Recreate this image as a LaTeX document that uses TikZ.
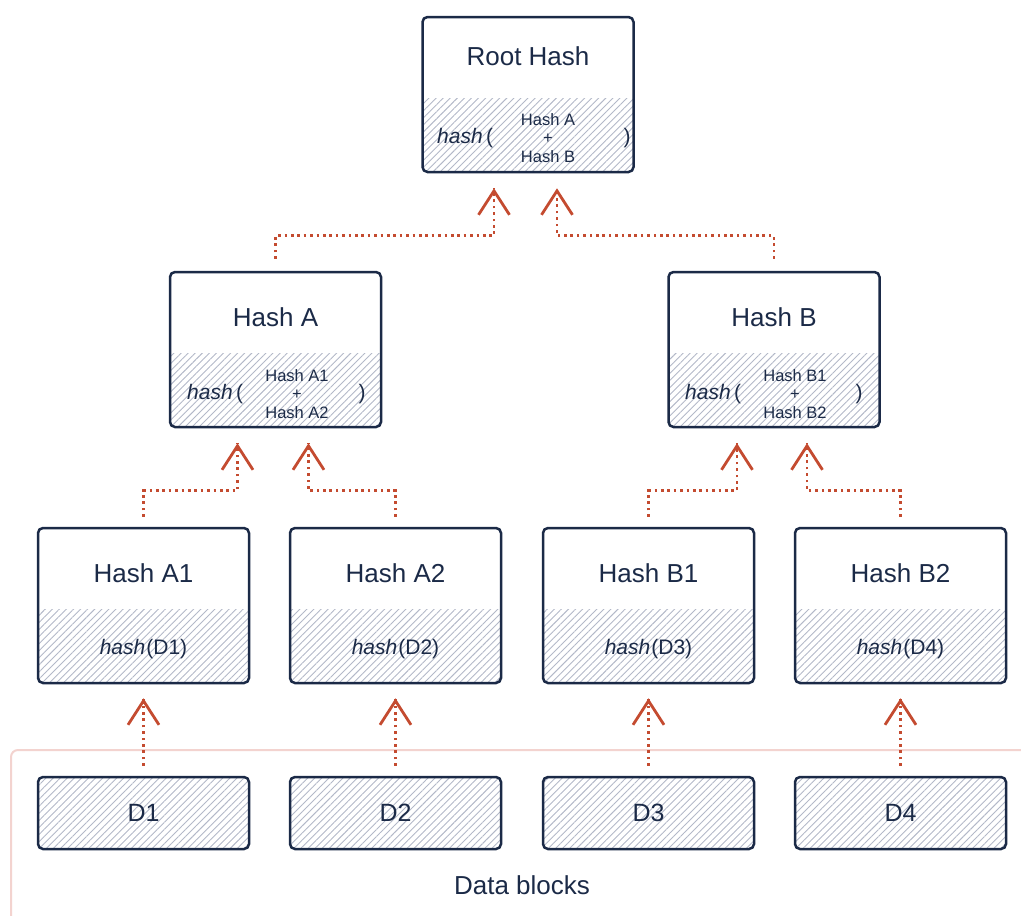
\documentclass[tikz,border=0pt]{standalone}
\usepackage{fontspec}
\setmainfont{Liberation Sans}
\usepackage{xcolor}
\usetikzlibrary{arrows.meta, patterns.meta, decorations.markings, positioning}
\definecolor{navy}{HTML}{1B2A47}
\definecolor{rust}{HTML}{C44B30}
\definecolor{hatchgray}{HTML}{B3B8C8}
\definecolor{blush}{HTML}{F3D3CF}

\begin{document}
\begin{tikzpicture}[
			x=1pt, y=-1pt,
			hashbox/.style={draw=navy, line width=2.5pt, rounded corners=5pt, minimum width=211pt, minimum height=155pt,
				path picture={\fill[pattern={Lines[angle=45, distance=5pt, line width=0.9pt]}, pattern color=hatchgray]
					([xshift=-5pt, yshift=-5pt]path picture bounding box.south west) rectangle ([xshift=5pt, yshift=74pt]path picture bounding box.south east);}},
			datablock/.style={draw=navy, line width=2.5pt, rounded corners=5pt, minimum width=211pt, minimum height=72pt,
				pattern={Lines[angle=45, distance=5pt, line width=0.9pt]}, pattern color=hatchgray,
				text=navy, font=\fontsize{25}{30}\selectfont},
			title/.style={anchor=base, text=navy, inner sep=0pt, font=\fontsize{26}{31}\selectfont},
			formula/.style={anchor=base, text=navy, inner sep=0pt, font=\fontsize{21}{25}\selectfont},
			pair/.style={align=center, text=navy, inner sep=0pt, font=\fontsize{16.5}{18.5}\selectfont},
			link/.style={draw=rust, line width=2.6pt, dash pattern=on 2.6pt off 3.8pt,
				postaction={decorate, decoration={markings,
					mark=at position 1 with {\arrow[rust, line width=2.8pt]{Straight Barb[length=24pt, width=31pt]}}}}},
			frame/.style={draw=blush, line width=2pt, rounded corners=7pt}
			]
			\useasboundingbox (0,0) rectangle (1021,916);
			
			% Nodes
			\node (root) [hashbox] at (528,94.5) {};
			\node (ha) [hashbox] at (275.5,349.5) {};
			\node (hb) [hashbox] at (774,349.5) {};
			\node (a1) [hashbox] at (143.5,605.5) {};
			\node (a2) [hashbox] at (395.5,605.5) {};
			\node (b1) [hashbox] at (648.5,605.5) {};
			\node (b2) [hashbox] at (900.5,605.5) {};
			\node (d1) [datablock] at (143.5,813) {D1};
			\node (d2) [datablock] at (395.5,813) {D2};
			\node (d3) [datablock] at (648.5,813) {D3};
			\node (d4) [datablock] at (900.5,813) {D4};
			
			% Titles
			\node (root_title) [title] at (528,65) {Root Hash};
			\node (ha_title) [title] at (275.5,326) {Hash A};
			\node (hb_title) [title] at (774,326) {Hash B};
			\node (a1_title) [title] at (143.5,582) {Hash A1};
			\node (a2_title) [title] at (395.5,582) {Hash A2};
			\node (b1_title) [title] at (648.5,582) {Hash B1};
			\node (b2_title) [title] at (900.5,582) {Hash B2};
			
			% Formulas
			\node (root_hash) [formula, anchor=base west] at (437,143) {\textit{hash}\,(};
			\node (root_pair) [pair] at (548,138) {Hash A\\+\\Hash B};
			\node (root_close) [formula] at (627,143) {)};
			\node (ha_hash) [formula, anchor=base west] at (187,399) {\textit{hash}\,(};
			\node (ha_pair) [pair] at (297,394) {Hash A1\\+\\Hash A2};
			\node (ha_close) [formula] at (362,399) {)};
			\node (hb_hash) [formula, anchor=base west] at (685,399) {\textit{hash}\,(};
			\node (hb_pair) [pair] at (795,394) {Hash B1\\+\\Hash B2};
			\node (hb_close) [formula] at (859,399) {)};
			\node (a1_hash) [formula] at (143.5,654) {\textit{hash}\kern1pt(D1)};
			\node (a2_hash) [formula] at (395.5,654) {\textit{hash}\kern1pt(D2)};
			\node (b1_hash) [formula] at (648.5,654) {\textit{hash}\kern1pt(D3)};
			\node (b2_hash) [formula] at (900.5,654) {\textit{hash}\kern1pt(D4)};
			
			% Data blocks frame
			\draw [frame] (1030,750) -- (11,750) -- (11,930);
			\node (blocks) [text=navy, font=\fontsize{26}{31}\selectfont] at (522,885) {Data blocks};
			
			% Connections
			\draw [link, shorten <=10pt] (d1) -- ([yshift=-14pt]a1.south);
			\draw [link, shorten <=10pt] (d2) -- ([yshift=-14pt]a2.south);
			\draw [link, shorten <=10pt] (d3) -- ([yshift=-14pt]b1.south);
			\draw [link, shorten <=10pt] (d4) -- ([yshift=-14pt]b2.south);
			\draw [link, shorten <=10pt] (a1.north) -- ++(0,-36) -| ([xshift=-38pt, yshift=-15pt]ha.south);
			\draw [link, shorten <=10pt] (a2.north) -- ++(0,-36) -| ([xshift=33pt, yshift=-15pt]ha.south);
			\draw [link, shorten <=10pt] (b1.north) -- ++(0,-36) -| ([xshift=-37pt, yshift=-15pt]hb.south);
			\draw [link, shorten <=10pt] (b2.north) -- ++(0,-36) -| ([xshift=33pt, yshift=-15pt]hb.south);
			\draw [link, shorten <=12pt] (ha.north) -- ++(0,-35) -| ([xshift=-34pt, yshift=-15pt]root.south);
			\draw [link, shorten <=12pt] (hb.north) -- ++(0,-35) -| ([xshift=29pt, yshift=-15pt]root.south);
			
		\end{tikzpicture}
\end{document}
